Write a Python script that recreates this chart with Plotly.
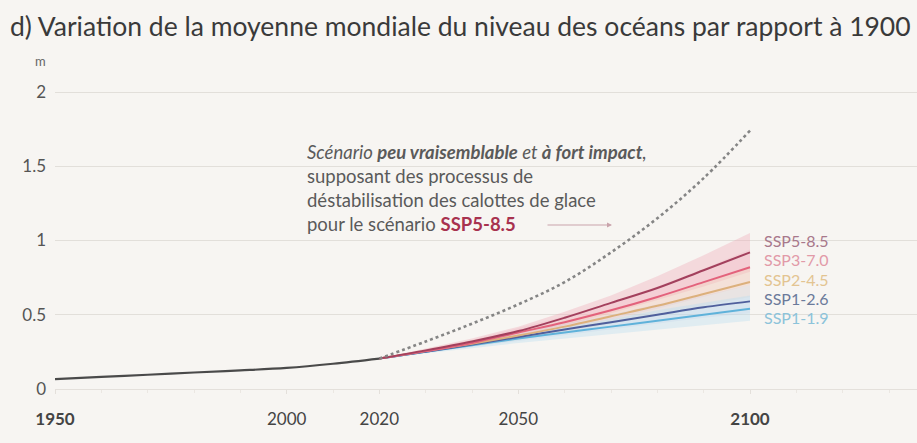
import plotly.graph_objects as go

# Observed global mean sea level (m, relative to 1900)
hist_years = [1950, 1960, 1970, 1980, 1990, 2000, 2010, 2020]
hist_level = [0.067, 0.082, 0.096, 0.111, 0.125, 0.142, 0.170, 0.205]

# Projections 2020-2100, median and shaded range (m)
proj_years = [2020, 2030, 2040, 2050, 2060, 2070, 2080, 2090, 2100]
scenarios = ["SSP5-8.5", "SSP3-7.0", "SSP2-4.5", "SSP1-2.6", "SSP1-1.9"]
median = {
    "SSP5-8.5": [0.205, 0.26, 0.32, 0.39, 0.48, 0.58, 0.68, 0.80, 0.92],
    "SSP3-7.0": [0.205, 0.255, 0.31, 0.38, 0.45, 0.53, 0.62, 0.72, 0.82],
    "SSP2-4.5": [0.205, 0.255, 0.305, 0.36, 0.42, 0.49, 0.56, 0.64, 0.72],
    "SSP1-2.6": [0.205, 0.25, 0.30, 0.35, 0.40, 0.45, 0.50, 0.55, 0.59],
    "SSP1-1.9": [0.205, 0.25, 0.295, 0.34, 0.38, 0.42, 0.46, 0.50, 0.54],
}
low = {
    "SSP5-8.5": [0.205, 0.25, 0.30, 0.36, 0.43, 0.51, 0.60, 0.69, 0.79],
    "SSP3-7.0": [0.205, 0.245, 0.29, 0.35, 0.41, 0.47, 0.54, 0.62, 0.70],
    "SSP2-4.5": [0.205, 0.245, 0.285, 0.33, 0.38, 0.44, 0.50, 0.56, 0.62],
    "SSP1-2.6": [0.205, 0.24, 0.28, 0.32, 0.36, 0.40, 0.44, 0.48, 0.51],
    "SSP1-1.9": [0.205, 0.24, 0.275, 0.31, 0.34, 0.37, 0.40, 0.43, 0.46],
}
high = {
    "SSP5-8.5": [0.205, 0.27, 0.34, 0.42, 0.52, 0.63, 0.76, 0.90, 1.05],
    "SSP3-7.0": [0.205, 0.265, 0.33, 0.41, 0.49, 0.58, 0.69, 0.81, 0.94],
    "SSP2-4.5": [0.205, 0.265, 0.325, 0.39, 0.46, 0.54, 0.62, 0.72, 0.82],
    "SSP1-2.6": [0.205, 0.26, 0.32, 0.38, 0.44, 0.50, 0.57, 0.63, 0.70],
    "SSP1-1.9": [0.205, 0.26, 0.315, 0.37, 0.42, 0.47, 0.53, 0.58, 0.63],
}

# Low-likelihood, high-impact storyline (ice-sheet instability, SSP5-8.5)
lowlik_years = [2020, 2030, 2040, 2050, 2060, 2070, 2080, 2090, 2100]
lowlik_level = [0.205, 0.32, 0.44, 0.57, 0.72, 0.92, 1.15, 1.42, 1.74]

x_ticks = [1950, 2000, 2020, 2050, 2100]
y_ticks = [0, 0.5, 1, 1.5, 2]

line_col = {
    "SSP5-8.5": "#a3405d",
    "SSP3-7.0": "#e3627c",
    "SSP2-4.5": "#dcb07c",
    "SSP1-2.6": "#4f5f9c",
    "SSP1-1.9": "#5fb2da",
}
band_col = {
    "SSP5-8.5": "rgba(240,170,185,0.38)",
    "SSP3-7.0": "rgba(245,180,190,0.25)",
    "SSP2-4.5": "rgba(240,215,180,0.25)",
    "SSP1-2.6": "rgba(200,205,230,0.25)",
    "SSP1-1.9": "rgba(180,220,240,0.35)",
}
label_col = {
    "SSP5-8.5": "#a8788b",
    "SSP3-7.0": "#e29aa8",
    "SSP2-4.5": "#e3c491",
    "SSP1-2.6": "#6b7a9a",
    "SSP1-1.9": "#8cc3da",
}

BG = "#f7f5f2"
FONT = "Lato"

fig = go.Figure()

# shaded ranges first, widest scenario at the back
for s in scenarios:
    fig.add_trace(go.Scatter(
        x=proj_years + proj_years[::-1],
        y=high[s] + low[s][::-1],
        fill="toself", fillcolor=band_col[s],
        line=dict(width=0), mode="lines", hoverinfo="skip", showlegend=False,
    ))

for s in scenarios[::-1]:
    fig.add_trace(go.Scatter(
        x=proj_years, y=median[s], mode="lines",
        line=dict(color=line_col[s], width=2, shape="spline"),
        showlegend=False, name=s,
    ))

fig.add_trace(go.Scatter(
    x=lowlik_years, y=lowlik_level, mode="lines",
    line=dict(color="#858585", width=2.6, dash="dot", shape="spline"),
    showlegend=False,
))

fig.add_trace(go.Scatter(
    x=hist_years, y=hist_level, mode="lines",
    line=dict(color="#4a4a4a", width=2.2, shape="spline"),
    showlegend=False,
))

# plot-area geometry in pixels
W, H = 917, 443
L, R, T, B = 55, 0, 70, 54
PW, PH = W - L - R, H - T - B


def px(xp):
    return (xp - L) / PW


def py(yp):
    return (H - B - yp) / PH


annotations = []

# scenario labels at the end of the lines
label_y = {"SSP5-8.5": 240, "SSP3-7.0": 259, "SSP2-4.5": 279,
           "SSP1-2.6": 298, "SSP1-1.9": 317}
for s in scenarios:
    annotations.append(dict(
        x=px(762), y=py(label_y[s]), xref="paper", yref="paper",
        text=s, showarrow=False, xanchor="left", yanchor="middle",
        font=dict(family=FONT, size=16, color=label_col[s]),
    ))

# storyline note
note_lines = [
    "<i>Scénario <b>peu vraisemblable</b> et <b>à fort impact</b>,</i>",
    "supposant des processus de",
    "déstabilisation des calottes de glace",
    "pour le scénario <b><span style='color:#a8324f'>SSP5-8.5</span></b>",
]
note_y = [152, 176, 200, 224]
for t, yy in zip(note_lines, note_y):
    annotations.append(dict(
        x=px(305), y=py(yy), xref="paper", yref="paper", text=t,
        showarrow=False, xanchor="left", yanchor="middle",
        font=dict(family=FONT, size=18.5, color="#5a5a5a"),
    ))

annotations.append(dict(
    x=px(612), y=py(225), xref="paper", yref="paper", text="",
    showarrow=True, ax=-66, ay=0, arrowhead=2, arrowsize=1, arrowwidth=1,
    arrowcolor="#c9a3ab",
))

# unit label
annotations.append(dict(
    x=px(40), y=py(61), xref="paper", yref="paper", text="m",
    showarrow=False, xanchor="center", yanchor="middle",
    font=dict(family=FONT, size=13, color="#666"),
))

fig.update_layout(
    width=W, height=H,
    margin=dict(l=L, r=R, t=T, b=B),
    paper_bgcolor=BG, plot_bgcolor=BG,
    title=dict(
        text="d) Variation de la moyenne mondiale du niveau des océans par rapport à 1900",
        x=10 / W, xanchor="left", y=1 - 27 / H, yanchor="middle",
        font=dict(family=FONT, size=26.5, color="#3a3a3a"),
    ),
    annotations=annotations,
    xaxis=dict(
        range=[1950, 1950 + PW / (695 / 150)],
        tickvals=x_ticks,
        ticktext=[f"<b>{v}</b>" if v in (1950, 2100) else str(v) for v in x_ticks],
        showgrid=False, zeroline=False,
        showline=True, linecolor="#e4e0db", linewidth=1,
        ticks="outside", ticklen=4, tickcolor="#e4e0db",
        minor=dict(dtick=10, ticks="outside", ticklen=3, tickcolor="#ebe7e2"),
        ticklabelstandoff=11,
        tickfont=dict(family=FONT, size=17, color="#444"),
    ),
    yaxis=dict(
        range=[0, PH / 148.5],
        tickvals=y_ticks, ticktext=["0", "0.5", "1", "1.5", "2"],
        showgrid=True, gridcolor="#e2dfda", gridwidth=1,
        zeroline=False, showline=False, ticks="",
        ticklabelstandoff=8,
        tickfont=dict(family=FONT, size=17, color="#555"),
    ),
)

fig.write_html("out.html")
